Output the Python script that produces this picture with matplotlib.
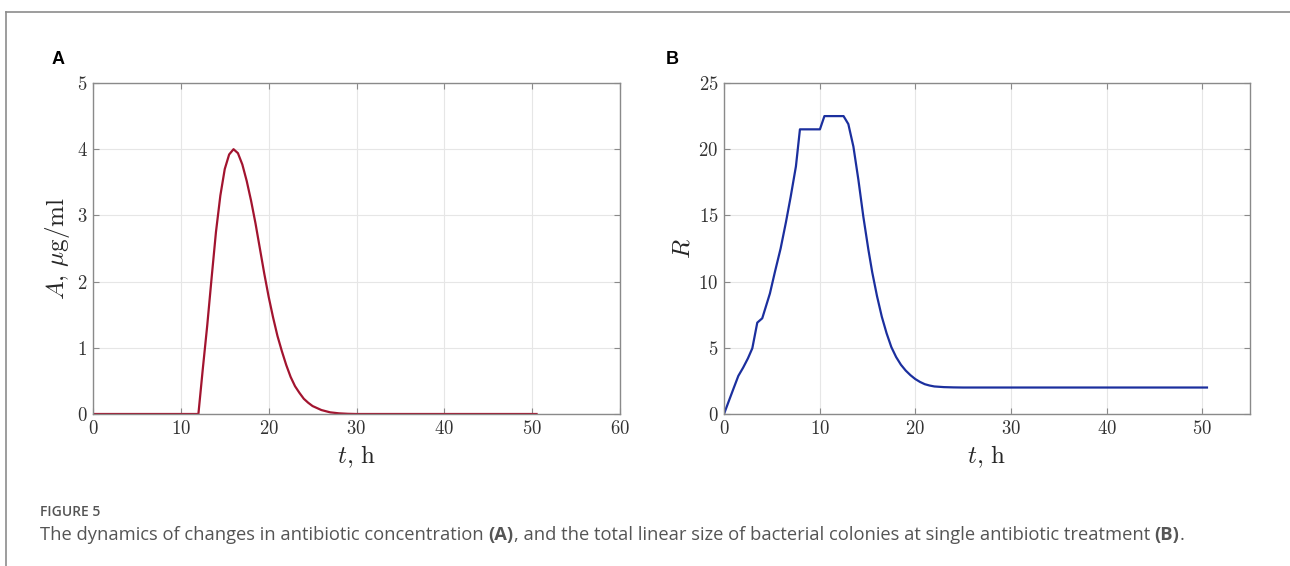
import matplotlib
matplotlib.use("Agg")
import matplotlib.pyplot as plt
from matplotlib.lines import Line2D

# ---- data ----
tA = [0, 12.0, 12.5, 13.0, 13.5, 14.0, 14.5, 15.0, 15.5, 16.0, 16.5, 17.0, 17.5, 18.0,
      18.5, 19.0, 19.5, 20.0, 20.5, 21.0, 21.5, 22.0, 22.5, 23.0, 23.5, 24.0, 24.5,
      25.0, 26.0, 27.0, 28.0, 29.0, 30.0, 50.5]
A = [0, 0, 0.68, 1.33, 2.05, 2.75, 3.3, 3.7, 3.92, 4.0, 3.94, 3.77, 3.52, 3.22,
     2.88, 2.5, 2.12, 1.77, 1.46, 1.18, 0.95, 0.74, 0.56, 0.42, 0.32, 0.23, 0.17,
     0.12, 0.06, 0.025, 0.01, 0.003, 0.0, 0.0]

tB = [0, 0.5, 1.0, 1.5, 2.0, 2.5, 2.96, 3.48, 4.0, 4.8, 5.33, 5.92, 6.48, 6.97, 7.52,
      7.94, 10.03, 10.5, 12.5, 13.0, 13.53, 14.05, 14.57, 15.1, 15.5, 16.0, 16.5, 17.0,
      17.5, 18.0, 18.5, 19.0, 19.5, 20.0, 20.5, 21.0, 21.5, 22.0, 23.0, 24.0, 25.0, 50.5]
R = [0, 0.97, 1.93, 2.88, 3.5, 4.2, 4.96, 6.9, 7.23, 9.1, 10.75, 12.5, 14.5, 16.4, 18.7,
     21.5, 21.5, 22.5, 22.5, 21.9, 20.2, 17.7, 14.9, 12.4, 10.7, 8.9, 7.35, 6.1,
     5.05, 4.3, 3.72, 3.28, 2.93, 2.64, 2.42, 2.25, 2.15, 2.08, 2.03, 2.01, 2.0, 2.0]

xticksA = [0, 10, 20, 30, 40, 50, 60]
yticksA = [0, 1, 2, 3, 4, 5]
xticksB = [0, 10, 20, 30, 40, 50]
yticksB = [0, 5, 10, 15, 20, 25]

plt.rcParams['mathtext.fontset'] = 'cm'
plt.rcParams['font.family'] = ['Open Sans', 'DejaVu Sans']

W, H = 1290, 566
fig = plt.figure(figsize=(W / 100, H / 100), dpi=100)

def fx(px):
    return px / W

def fy(py):
    return 1 - py / H

axA = fig.add_axes([fx(93), fy(414), (620 - 93) / W, (414 - 83) / H])
axB = fig.add_axes([fx(724), fy(414), (1250 - 724) / W, (414 - 83) / H])

def style(ax, xt, yt, xlim, ylim):
    ax.set_xlim(*xlim)
    ax.set_ylim(*ylim)
    ax.set_xticks(xt)
    ax.set_yticks(yt)
    ax.set_xticklabels([f"${v}$" for v in xt])
    ax.set_yticklabels([f"${v}$" for v in yt])
    ax.grid(True, color='#e6e6e6', lw=0.8)
    ax.set_axisbelow(True)
    for s in ax.spines.values():
        s.set_color('#8a8a8a')
        s.set_linewidth(1.0)
    ax.tick_params(direction='in', length=4, width=0.8, color='#8a8a8a',
                   top=True, right=True, labelsize=13.5, labelcolor='#333333', pad=4)

axA.plot(tA, A, color='#A2142F', lw=1.6)
style(axA, xticksA, yticksA, (0, 60), (0, 5))
axA.set_xlabel(r'$t,\,\mathrm{h}$', fontsize=18, color='#262626', labelpad=4)
axA.set_ylabel(r'$A,\,\mu\mathrm{g/ml}$', fontsize=18, color='#262626', labelpad=3)

axB.plot(tB, R, color='#1b2f9e', lw=1.6)
style(axB, xticksB, yticksB, (0, 55), (0, 25))
axB.set_xlabel(r'$t,\,\mathrm{h}$', fontsize=18, color='#262626', labelpad=4)
axB.set_ylabel(r'$R$', fontsize=18, color='#262626', labelpad=2)

fig.text(fx(58), fy(60), 'A', fontsize=13, fontweight='bold', ha='center', va='center',
         family=['Liberation Sans', 'DejaVu Sans'])
fig.text(fx(672), fy(60), 'B', fontsize=13, fontweight='bold', ha='center', va='center',
         family=['Liberation Sans', 'DejaVu Sans'])

# border
fig.add_artist(Line2D([fx(6), 1], [fy(12), fy(12)], color='#8c8c8c', lw=1.2))
fig.add_artist(Line2D([fx(6), fx(6)], [fy(12), 0], color='#8c8c8c', lw=1.2))

# caption
fig.text(fx(40), fy(512), 'FIGURE 5', fontsize=10, fontweight='semibold', color='#555555',
         va='center', ha='left')

parts = [("The dynamics of changes in antibiotic concentration ", 'normal'),
         ("(A)", 'bold'),
         (", and the total linear size of bacterial colonies at single antibiotic treatment ", 'normal'),
         ("(B)", 'bold'),
         (".", 'normal')]
fig.canvas.draw()
renderer = fig.canvas.get_renderer()
x = fx(40)
for s, w in parts:
    t = fig.text(x, fy(535), s, fontsize=13.2, color='#555555', va='center', ha='left',
                 fontweight=w)
    bb = t.get_window_extent(renderer=renderer)
    x += bb.width / W

fig.savefig('out.png', dpi=100)
